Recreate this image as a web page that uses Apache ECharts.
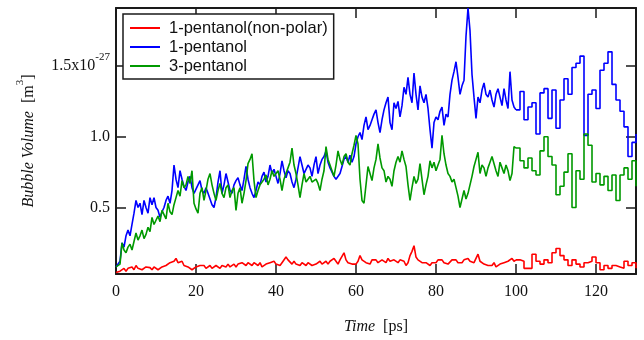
<!DOCTYPE html>
<html>
<head>
<meta charset="utf-8">
<script src="https://cdn.jsdelivr.net/npm/echarts@6/dist/echarts.min.js"></script>
<style>
  html, body { margin: 0; padding: 0; background: #fff; }
  #main { width: 644px; height: 340px; }
</style>
</head>
<body>
<div id="main"></div>
<script>
// Bubble volume (x10^-27 m^3) vs time (ps)
// dense part: 0..100 ps every 0.5 ps, step part: 100..130 ps every 1 ps
const seriesNames = ['1-pentanol(non-polar)', '1-pentanol', '3-pentanol']
const seriesColors = ['#ff0000', '#0000ff', '#009900']
const denseStep = 0.5
const stepStart = 100
const stepWidth = 1
const xTicks = [0, 20, 40, 60, 80, 100, 120]
const yTicks = [0.5, 1.0, 1.5]

const nonPolar = [
  0.04,0.03,0.05,0.04,0.07,0.05,0.07,0.06,0.08,0.06,
  0.09,0.07,0.08,0.06,0.06,0.08,0.07,0.075,0.06,0.08,
  0.07,0.06,0.06,0.08,0.07,0.09,0.09,0.11,0.10,0.12,
  0.14,0.11,0.10,0.12,0.09,0.08,0.08,0.07,0.06,0.06,
  0.08,0.07,0.09,0.08,0.09,0.07,0.08,0.09,0.07,0.075,
  0.09,0.08,0.07,0.09,0.09,0.08,0.10,0.08,0.09,0.10,
  0.08,0.10,0.09,0.11,0.10,0.09,0.11,0.10,0.09,0.11,
  0.10,0.09,0.11,0.08,0.09,0.10,0.09,0.11,0.10,0.12,
  0.10,0.09,0.09,0.11,0.12,0.15,0.13,0.12,0.10,0.12,
  0.10,0.09,0.09,0.11,0.10,0.09,0.11,0.10,0.09,0.08,
  0.10,0.11,0.12,0.10,0.11,0.12,0.10,0.12,0.13,0.14,
  0.12,0.10,0.13,0.12,0.18,0.13,0.11,0.12,0.10,0.11,
  0.10,0.12,0.16,0.13,0.12,0.11,0.12,0.10,0.13,0.12,
  0.13,0.11,0.12,0.13,0.12,0.11,0.14,0.12,0.11,0.13,
  0.12,0.11,0.13,0.14,0.12,0.09,0.11,0.16,0.19,0.23,
  0.15,0.13,0.12,0.11,0.10,0.11,0.10,0.09,0.11,0.12,
  0.11,0.13,0.12,0.13,0.11,0.12,0.10,0.11,0.13,0.12,
  0.13,0.11,0.12,0.11,0.13,0.12,0.14,0.12,0.13,0.11,
  0.12,0.17,0.12,0.11,0.10,0.11,0.09,0.10,0.09,0.11,
  0.08,0.09,0.10,0.09,0.11,0.10,0.12,0.11,0.14,0.12,
  0.13
]
const pentanol1 = [
  0.08,0.08,0.12,0.25,0.22,0.30,0.34,0.30,0.38,0.46,
  0.55,0.50,0.53,0.45,0.55,0.50,0.46,0.57,0.52,0.57,
  0.50,0.48,0.43,0.47,0.50,0.55,0.58,0.53,0.62,0.80,
  0.70,0.64,0.76,0.70,0.65,0.62,0.68,0.72,0.64,0.60,
  0.63,0.66,0.69,0.62,0.60,0.64,0.60,0.56,0.52,0.50,
  0.57,0.68,0.76,0.60,0.66,0.74,0.68,0.62,0.60,0.66,
  0.69,0.71,0.66,0.62,0.70,0.79,0.70,0.64,0.60,0.57,
  0.62,0.68,0.66,0.72,0.75,0.68,0.72,0.80,0.74,0.77,
  0.72,0.67,0.74,0.83,0.76,0.71,0.76,0.74,0.68,0.64,
  0.70,0.78,0.86,0.80,0.74,0.77,0.80,0.78,0.72,0.80,
  0.86,0.74,0.80,0.84,0.86,0.90,0.82,0.78,0.75,0.72,
  0.70,0.69,0.74,0.79,0.84,0.86,0.82,0.87,0.82,0.86,
  0.95,1.00,1.03,0.98,1.08,1.14,1.05,1.08,1.12,1.16,
  1.19,1.10,1.03,1.12,1.19,1.24,1.28,1.10,1.05,1.24,
  1.20,1.25,1.14,1.22,1.35,1.30,1.42,1.30,1.24,1.45,
  1.30,1.19,1.36,1.28,1.24,1.30,1.20,1.05,0.92,1.10,
  1.14,1.12,1.18,1.21,1.08,1.16,1.14,1.30,1.40,1.46,
  1.53,1.42,1.30,1.36,1.40,1.71,1.91,1.75,1.44,1.28,
  1.13,1.28,1.24,1.33,1.38,1.30,1.28,1.33,1.26,1.21,
  1.30,1.34,1.28,1.22,1.34,1.26,1.20,1.46,1.26,1.21,
  1.19
]
const pentanol3 = [
  0.08,0.08,0.10,0.25,0.20,0.18,0.22,0.24,0.20,0.26,
  0.32,0.27,0.30,0.34,0.28,0.31,0.36,0.33,0.43,0.38,
  0.41,0.44,0.40,0.48,0.45,0.42,0.53,0.47,0.45,0.52,
  0.57,0.62,0.58,0.69,0.64,0.66,0.72,0.67,0.76,0.53,
  0.49,0.46,0.60,0.64,0.55,0.62,0.70,0.74,0.66,0.60,
  0.55,0.62,0.67,0.60,0.57,0.64,0.66,0.57,0.62,0.64,
  0.48,0.60,0.64,0.53,0.60,0.69,0.81,0.84,0.88,0.69,
  0.57,0.62,0.66,0.67,0.70,0.73,0.66,0.70,0.76,0.72,
  0.71,0.76,0.70,0.62,0.70,0.74,0.78,0.82,0.92,0.80,
  0.74,0.66,0.57,0.66,0.74,0.68,0.70,0.72,0.68,0.69,
  0.70,0.67,0.62,0.70,0.76,0.93,0.84,0.80,0.76,0.72,
  0.80,0.90,0.84,0.80,0.86,0.88,0.82,0.80,0.88,0.94,
  1.01,0.95,0.70,0.55,0.53,0.66,0.79,0.74,0.69,0.78,
  0.84,0.95,0.85,0.78,0.76,0.68,0.72,0.70,0.65,0.76,
  0.82,0.86,0.82,0.90,0.84,0.79,0.66,0.55,0.64,0.72,
  0.67,0.70,0.81,0.70,0.59,0.66,0.72,0.83,0.78,0.82,
  0.76,0.80,0.84,1.01,0.88,0.80,0.74,0.72,0.68,0.70,
  0.64,0.58,0.50,0.56,0.62,0.56,0.60,0.66,0.72,0.79,
  0.84,0.89,0.74,0.80,0.78,0.72,0.78,0.82,0.86,0.87,
  0.76,0.72,0.82,0.78,0.74,0.80,0.76,0.69,0.74,0.93,
  0.92
]

// 100..130 ps, held values
const nonPolarStep = [0.13,0.12,0.07,0.07,0.17,0.12,0.10,0.13,0.11,0.18,0.21,0.16,0.13,0.09,0.13,0.10,0.08,0.11,0.12,0.15,0.11,0.06,0.09,0.07,0.09,0.08,0.07,0.12,0.09,0.11,0.07]
const pentanol1Step = [1.19,1.32,1.12,1.21,1.24,1.02,1.31,1.34,1.13,1.33,1.06,1.26,1.41,1.30,1.49,1.52,1.57,1.01,1.30,1.33,1.20,1.47,1.52,1.60,1.37,1.26,1.18,1.07,0.86,0.96,1.02]
const pentanol3Step = [0.92,0.83,0.78,0.85,0.76,0.73,0.90,1.00,0.86,0.80,0.59,0.65,0.75,0.88,0.50,0.76,0.70,1.02,0.94,0.68,0.74,0.66,0.72,0.62,0.73,0.55,0.73,0.78,0.70,0.83,0.65]

const dense = [nonPolar, pentanol1, pentanol3]
const stepped = [nonPolarStep, pentanol1Step, pentanol3Step]

const serif = 'Liberation Serif'
const sans = 'Liberation Sans'
const frame = { show: true, onZero: false, lineStyle: { color: '#1a1a1a', width: 2 } }
const tickIn = { show: true, inside: true, length: 10, lineStyle: { color: '#1a1a1a', width: 1.5 } }

const series = []
dense.forEach((vals, k) => {
  series.push({
    name: seriesNames[k],
    type: 'line',
    showSymbol: false,
    symbol: 'none',
    color: seriesColors[k],
    lineStyle: { width: 1.6, color: seriesColors[k] },
    data: vals.map((v, i) => [i * denseStep, v])
  })
})
stepped.forEach((vals, k) => {
  series.push({
    name: seriesNames[k],
    type: 'line',
    step: 'end',
    showSymbol: false,
    symbol: 'none',
    color: seriesColors[k],
    lineStyle: { width: 1.6, color: seriesColors[k] },
    data: vals.map((v, i) => [stepStart + i * stepWidth, v])
  })
})
// draw order: red, blue, green
series.sort((a, b) => seriesNames.indexOf(a.name) - seriesNames.indexOf(b.name))

const chart = echarts.init(document.getElementById('main'))
chart.setOption({
  animation: false,
  backgroundColor: '#fff',
  grid: { left: 116, right: 8, top: 8, bottom: 66 },
  legend: {
    data: seriesNames,
    orient: 'vertical',
    left: 123,
    top: 14,
    icon: 'rect',
    itemWidth: 30,
    itemHeight: 2,
    itemGap: 1,
    padding: [5, 6, 4, 7],
    borderColor: '#1a1a1a',
    borderWidth: 1.5,
    backgroundColor: '#fff',
    selectedMode: false,
    textStyle: { fontFamily: sans, fontSize: 16.5, lineHeight: 18, color: '#111', padding: [0, 0, 0, 4] }
  },
  xAxis: [{
    type: 'value',
    min: 0,
    max: 130,
    interval: 20,
    axisLine: frame,
    axisTick: tickIn,
    splitLine: { show: false },
    axisLabel: {
      margin: 10,
      fontFamily: serif,
      fontSize: 16,
      color: '#111',
      showMaxLabel: false,
      formatter: v => (xTicks.includes(v) ? String(v) : '')
    },
    name: '{i|Time}{r|  [ps]}',
    nameLocation: 'middle',
    nameGap: 45,
    nameTextStyle: {
      rich: {
        i: { fontFamily: serif, fontSize: 16, fontStyle: 'italic', color: '#111' },
        r: { fontFamily: serif, fontSize: 16, color: '#111' }
      }
    }
  }, {
    type: 'value',
    position: 'top',
    min: 0,
    max: 130,
    interval: 20,
    axisLine: frame,
    axisTick: tickIn,
    axisLabel: { show: false },
    splitLine: { show: false }
  }],
  yAxis: [{
    type: 'value',
    min: 0.03,
    max: 1.91,
    axisLine: frame,
    axisTick: Object.assign({}, tickIn, { customValues: yTicks }),
    splitLine: { show: false },
    axisLabel: {
      customValues: yTicks,
      margin: 6,
      fontFamily: serif,
      fontSize: 16,
      color: '#111',
      formatter: v => (Math.abs(v - 1.5) < 1e-6 ? '{a|1.5x10}{b|-27}' : v.toFixed(1)),
      rich: {
        a: { fontFamily: serif, fontSize: 16, color: '#111', verticalAlign: 'middle' },
        b: { fontFamily: serif, fontSize: 11, color: '#111', verticalAlign: 'middle', padding: [0, 0, 18, 0] }
      }
    },
    name: '{i|Bubble Volume}{r|  [m}{s|3}{r|]}',
    nameLocation: 'middle',
    nameRotate: 90,
    nameGap: 74,
    nameTextStyle: {
      rich: {
        i: { fontFamily: serif, fontSize: 16, fontStyle: 'italic', color: '#111', verticalAlign: 'middle' },
        r: { fontFamily: serif, fontSize: 16, color: '#111', verticalAlign: 'middle' },
        s: { fontFamily: serif, fontSize: 11, color: '#111', verticalAlign: 'middle', padding: [0, 0, 16, 0] }
      }
    }
  }, {
    type: 'value',
    position: 'right',
    min: 0.03,
    max: 1.91,
    axisLine: frame,
    axisTick: Object.assign({}, tickIn, { customValues: yTicks }),
    axisLabel: { show: false },
    splitLine: { show: false }
  }],
  series
})
</script>
</body>
</html>
